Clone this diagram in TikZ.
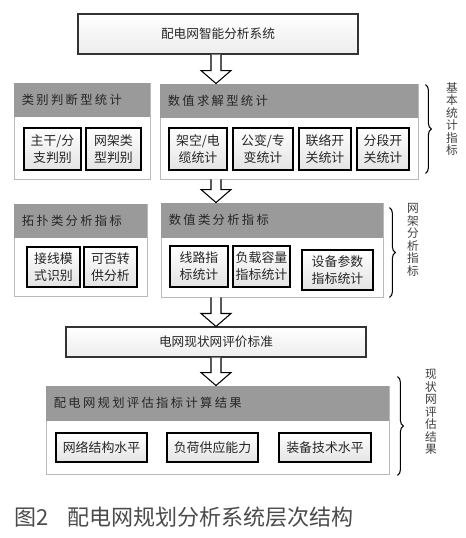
\documentclass[tikz,border=0pt]{standalone}
\usepackage{fontspec}
\setmainfont{Noto Sans CJK SC}
\newfontfamily\hdrfont[LetterSpace=19]{Noto Sans CJK SC}
\usetikzlibrary{positioning,calc,fit,shadows,decorations.pathreplacing}

\definecolor{hdrgray}{RGB}{154,154,154}
\definecolor{edgegray}{RGB}{185,185,185}
\definecolor{capgray}{RGB}{75,75,75}

\begin{document}
\begin{tikzpicture}[
  x=0.03cm, y=-0.03cm,
  grpbox/.style={
    draw=edgegray, line width=0.8pt, fill=white, inner sep=0pt,
    drop shadow={shadow xshift=0.7pt, shadow yshift=-0.7pt, opacity=0.25}
  },
  hdrtext/.style={
    font=\hdrfont\fontsize{10.5}{12}\selectfont, text=black!85,
    anchor=west, inner sep=0pt
  },
  cell/.style={
    draw=black, line width=1.1pt, top color=white, bottom color=gray!22,
    align=center, inner sep=0pt, minimum height=1.26cm,
    font=\fontsize{11}{14.5}\selectfont, text=black!85,
    drop shadow={shadow xshift=0.7pt, shadow yshift=-0.7pt, opacity=0.3}
  },
  bigbox/.style={
    draw=black!80, line width=0.9pt, top color=white, bottom color=gray!14,
    inner sep=0pt, font=\fontsize{10.8}{12}\selectfont, text=black!85,
    drop shadow={shadow xshift=0.8pt, shadow yshift=-0.8pt, opacity=0.3}
  },
  blockarrow/.style={draw=black, line width=0.9pt, fill=white, line join=miter},
  brace/.style={decorate, decoration={brace, amplitude=5pt}, line width=0.9pt},
  vlabel/.style={
    align=center, inner sep=0pt, text=black!75,
    font=\fontsize{10}{10.7}\selectfont
  },
  caption/.style={
    font=\fontsize{18.8}{20}\selectfont, text=capgray,
    anchor=west, inner sep=0pt
  }
]
\useasboundingbox (0,0) rectangle (465,538);

% Top
\node[bigbox, minimum width=8.4cm, minimum height=1.2cm] (top) at (218,34) {配电网智能分析系统};

% Basic statistics
\node[grpbox, fit={(14,83)(150,179)}] (gA) {};
\fill[hdrgray] ($(gA.north west)+(0.5,0.5)$) rectangle ($(gA.north east)+(-0.5,34)$);
\node[hdrtext] (gA-t) at ($(gA.north west)+(8,17)$) {类别判断型统计};
\node[cell, minimum width=1.71cm] (trunk) at (52.5,149) {主干/分\\支判别};
\node[cell, minimum width=1.65cm] (frame) at (113.5,149) {网架类\\型判别};

\node[grpbox, fit={(160,84)(418,179)}] (gB) {};
\fill[hdrgray] ($(gB.north west)+(0.5,0.5)$) rectangle ($(gB.north east)+(-0.5,34)$);
\node[hdrtext] (gB-t) at ($(gB.north west)+(8,17)$) {数值求解型统计};
\node[cell, minimum width=1.74cm] (cable) at (198,149) {架空/电\\缆统计};
\node[cell, minimum width=1.80cm] (trafo) at (263,149) {公变/专\\变统计};
\node[cell, minimum width=1.56cm] (tie) at (325,149) {联络开\\关统计};
\node[cell, minimum width=1.56cm] (sect) at (383,149) {分段开\\关统计};

% Grid analysis
\node[grpbox, fit={(14,204)(147,296)}] (gC) {};
\fill[hdrgray] ($(gC.north west)+(0.5,0.5)$) rectangle ($(gC.north east)+(-0.5,34)$);
\node[hdrtext] (gC-t) at ($(gC.north west)+(8,17)$) {拓扑类分析指标};
\node[cell, minimum width=1.59cm, minimum height=1.2cm] (mode) at (53.5,267) {接线模\\式识别};
\node[cell, minimum width=1.59cm, minimum height=1.2cm] (supply) at (110.5,267) {可否转\\供分析};

\node[grpbox, fit={(161,203)(383,297)}] (gD) {};
\fill[hdrgray] ($(gD.north west)+(0.5,0.5)$) rectangle ($(gD.north east)+(-0.5,35)$);
\node[hdrtext] (gD-t) at ($(gD.north west)+(8,17.5)$) {数值类分析指标};
\node[cell, minimum width=1.74cm, minimum height=1.23cm] (line) at (199,266.5) {线路指\\标统计};
\node[cell, minimum width=1.71cm, minimum height=1.23cm] (load) at (261.5,266.5) {负载容量\\指标统计};
\node[cell, minimum width=2.13cm, minimum height=1.2cm] (equip) at (337.5,270) {设备参数\\指标统计};

% Criteria
\node[bigbox, minimum width=9cm, minimum height=0.9cm] (mid) at (216,342) {电网现状网评价标准};

% Results
\node[grpbox, fit={(46,386)(389,474)}] (gE) {};
\fill[hdrgray] ($(gE.north west)+(0.5,0.5)$) rectangle ($(gE.north east)+(-0.5,35)$);
\node[hdrtext] (gE-t) at ($(gE.north west)+(8,17.5)$) {配电网规划评估指标计算结果};
\node[cell, minimum width=2.73cm, minimum height=0.87cm] (net) at (101.5,447.5) {网络结构水平};
\node[cell, minimum width=2.73cm, minimum height=0.87cm] (cap) at (212.5,447.5) {负荷供应能力};
\node[cell, minimum width=2.76cm, minimum height=0.87cm] (tech) at (325,447.5) {装备技术水平};

% Arrows
\coordinate (axis) at (216,0);
\coordinate (a1s) at (top.south -| axis);
\coordinate (a1e) at (gB.north -| axis);
\coordinate (a2s) at (gB.south -| axis);
\coordinate (a2e) at (gD.north -| axis);
\coordinate (a3s) at (gD.south -| axis);
\coordinate (a3e) at (mid.north -| axis);
\coordinate (a4s) at (mid.south -| axis);
\coordinate (a4e) at (gE.north -| axis);
\foreach \s/\e in {a1s/a1e, a2s/a2e, a3s/a3e, a4s/a4e}
  \draw[blockarrow] ($(\s)+(-5,0)$) -- ($(\e)+(-5,-13)$) -- ($(\e)+(-15,-13)$) -- (\e)
    -- ($(\e)+(15,-13)$) -- ($(\e)+(5,-13)$) -- ($(\s)+(5,0)$);

% Braces and side labels
\draw[brace] ($(gB.north east)+(7,1)$) -- ($(gB.south east)+(7,-6)$);
\node[vlabel] (lab1) at (452,119) {基\\本\\统\\计\\指\\标};
\draw[brace] ($(gD.north east)+(6,5)$) -- ($(gD.south east)+(6,0)$);
\node[vlabel] (lab2) at (413,240) {网\\架\\分\\析\\指\\标};
\draw[brace] ($(gE.north east)+(8,-9)$) -- ($(gE.south east)+(8,1)$);
\node[vlabel] (lab3) at (431,412) {现\\状\\网\\评\\估\\结\\果};

% Caption
\node[caption] (fig) at (14,517) {图2\hspace{0.85em}配电网规划分析系统层次结构};
\end{tikzpicture}
\end{document}
